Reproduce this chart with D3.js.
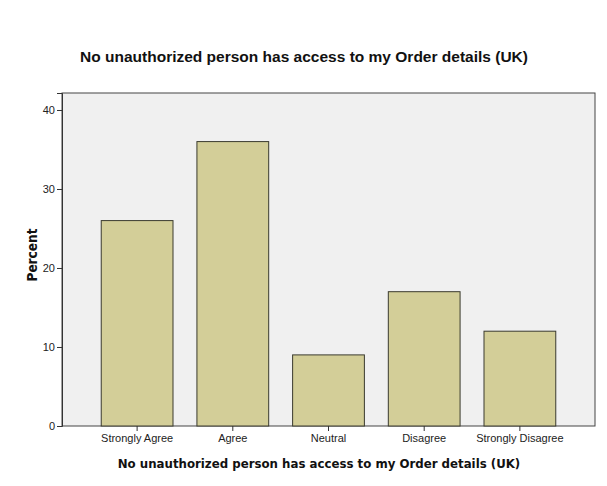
<!DOCTYPE html>
<html><head><meta charset="utf-8">
<script src="https://cdn.jsdelivr.net/npm/d3@7"></script>
<style>body{margin:0;background:#fff}svg{display:block}</style>
</head><body>
<script>
const categories = ["Strongly Agree","Agree","Neutral","Disagree","Strongly Disagree"];
const percents = [26, 36, 9, 17, 12];
const yTicks = [0, 10, 20, 30, 40];
const title = "No unauthorized person has access to my Order details (UK)";
const xTitle = "No unauthorized person has access to my Order details (UK)";
const yTitle = "Percent";

const W = 607, H = 486;
const m = {left: 62, right: 595, top: 93, bottom: 426};
const svg = d3.select("body").append("svg").attr("width", W).attr("height", H);

const x = d3.scaleBand().domain(categories).range([m.left, m.right])
  .paddingInner(0.25).paddingOuter(0.41);
const y = d3.scaleLinear().domain([0, 42.15]).range([m.bottom, m.top]);

svg.append("rect").attr("x", m.left).attr("y", m.top)
  .attr("width", m.right - m.left).attr("height", m.bottom - m.top)
  .attr("fill", "#f0f0f0").attr("stroke", "#444").attr("stroke-width", 1);

svg.selectAll("rect.bar").data(categories).join("rect").attr("class","bar")
  .attr("x", d => x(d)).attr("width", x.bandwidth())
  .attr("y", (d,i) => y(percents[i])).attr("height", (d,i) => y(0) - y(percents[i]))
  .attr("fill", "#d3ce98").attr("stroke", "#3a3a2e").attr("stroke-width", 1);

const yAxis = d3.axisLeft(y).tickValues(yTicks).tickSize(5).tickPadding(2);
const gy = svg.append("g").attr("transform", `translate(${m.left},0)`).call(yAxis);
gy.select(".domain").attr("stroke", "#333");
gy.selectAll(".tick line").attr("stroke", "#333");
gy.selectAll("text").attr("font-family", "Liberation Sans, Arial, sans-serif").attr("font-size", 11).attr("fill", "#222");

const xAxis = d3.axisBottom(x).tickSize(5).tickPadding(3);
const gx = svg.append("g").attr("transform", `translate(0,${m.bottom})`).call(xAxis);
gx.select(".domain").remove();
gx.selectAll(".tick line").attr("stroke", "#333");
gx.selectAll("text").attr("font-family", "Liberation Sans, Arial, sans-serif").attr("font-size", 11).attr("fill", "#222");

svg.append("text").attr("x", 304).attr("y", 62).attr("text-anchor", "middle")
  .attr("font-family", "Liberation Sans, Arial, sans-serif").attr("font-weight", "bold")
  .attr("font-size", 15.5).attr("fill", "#111").text(title);

svg.append("text").attr("x", 319).attr("y", 468).attr("text-anchor", "middle")
  .attr("font-family", "DejaVu Sans Condensed, DejaVu Sans, sans-serif").attr("font-weight", "bold")
  .attr("font-size", 13.1).attr("fill", "#111").text(xTitle);

svg.append("text").attr("transform", "translate(37,255) rotate(-90)").attr("text-anchor", "middle")
  .attr("font-family", "DejaVu Sans Condensed, DejaVu Sans, sans-serif").attr("font-weight", "bold")
  .attr("font-size", 13.5).attr("fill", "#111").text(yTitle);
</script>
</body></html>
